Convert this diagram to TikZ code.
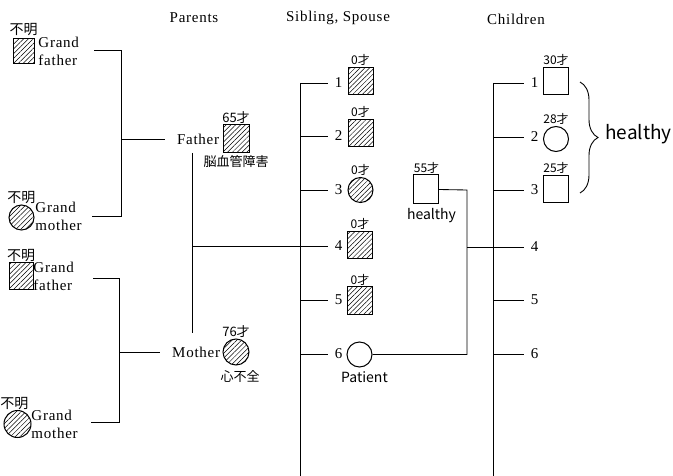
\documentclass[tikz,border=0pt]{standalone}
\usepackage{fontspec}
\setmainfont{Liberation Serif}
\newfontfamily\typed[LetterSpace=5]{Liberation Serif}
\newfontfamily\hand{Noto Sans CJK JP}
\usetikzlibrary{positioning,calc,patterns.meta,decorations.pathreplacing}
\tikzset{
  male/.style={draw, line width=1pt, rectangle, minimum width=25pt, minimum height=27pt, inner sep=0pt},
  female/.style={draw, line width=1pt, circle, minimum size=25pt, inner sep=0pt},
  affected/.style={pattern={Lines[angle=45,distance=3.4pt,line width=0.5pt]}},
  age/.style={font=\hand\fontsize{12}{12}\selectfont, inner sep=1pt},
  note/.style={font=\hand\fontsize{13}{13}\selectfont, inner sep=1pt},
  unknown/.style={font=\hand\fontsize{14}{14}\selectfont, inner sep=1pt},
  num/.style={font=\typed\fontsize{15}{18}\selectfont, inner sep=1pt, outer xsep=6pt},
  ptxt/.style={font=\typed\fontsize{15}{18}\selectfont, align=left, inner sep=1pt},
  head/.style={font=\typed\fontsize{15}{18}\selectfont}
}

\begin{document}
\begin{tikzpicture}[x=1pt, y=-1pt, line width=0.85pt]
        \useasboundingbox (0,0) rectangle (673,476);

        \node[head] (hpar) at (194,18) {Parents};
        \node[head] (hsib) at (338,18) {Sibling, Spouse};
        \node[head] (hchi) at (516,19) {Children};

        % grandparents
        \node[male, affected, minimum width=21pt, minimum height=25pt] (gf1) at (23.5,51) {};
        \node[unknown, above=1pt of gf1] {不明};
        \node[ptxt, anchor=west] (gf1t) at (37,51) {Grand\\father};
        \node[female, affected, minimum size=25pt] (gm1) at (21.5,217.5) {};
        \node[unknown, above=-1pt of gm1] {不明};
        \node[ptxt, anchor=west] (gm1t) at (34,216) {Grand\\mother};
        \node[male, affected, minimum width=24pt, minimum height=27pt] (gf2) at (21,276) {};
        \node[unknown, above=-1pt of gf2] {不明};
        \node[ptxt, anchor=west] (gf2t) at (32,276) {Grand\\father};
        \node[female, affected, minimum size=27pt] (gm2) at (17.5,424) {};
        \node[unknown, above=-1pt of gm2, xshift=-3pt] {不明};
        \node[ptxt, anchor=west] (gm2t) at (30,424) {Grand\\mother};

        \coordinate (pb1) at (121,50);
        \coordinate (pb2) at (121,216);
        \coordinate (pb3) at (119,278);
        \coordinate (pb4) at (119,422);
        \draw (pb1) ++(-27,0) -- (pb1) -- (pb2) -- ++(-29,0);
        \draw (pb3) ++(-26,0) -- (pb3) -- (pb4) -- ++(-28,0);

        % parents
        \node[male, affected, minimum width=26pt, minimum height=28pt] (fa) at (236,139) {};
        \node[age, above=0pt of fa, font=\hand\fontsize{13}{13}\selectfont] {65才};
        \node[note, below=1pt of fa] {脳血管障害};
        \node[ptxt, left=2pt of fa] (fat) {Father};
        \node[female, affected, minimum size=26pt] (mo) at (236,352) {};
        \node[age, above=0pt of mo, font=\hand\fontsize{13}{13}\selectfont] {76才};
        \node[note, below=4pt of mo, xshift=4pt] {心不全};
        \node[ptxt, left=1pt of mo] (mot) {Mother};
        \draw (pb1 |- fat) -- ([xshift=-11pt]fat.west);
        \draw (pb3 |- mot) -- ([xshift=-11pt]mot.west);

        \coordinate (fmt) at (192,153);
        \coordinate (fmb) at (192,333);
        \draw (fmt) -- (fmb);

        % siblings
        \coordinate (sibtop) at (300,83);
        \coordinate (sibbot) at (300,476);
        \draw (sibtop) -- (sibbot);
        \foreach \i/\y in {1/83,2/136,3/190,4/246,5/300,6/354} {
          \node[num] (sn\i) at (338.5,\y) {\i};
          \draw (sn\i.west) -- (sn\i.west -| sibtop);
        }
        \draw (fmt |- sn4) -- (sn4.west);

        \node[male, affected] (s1) at (360.5,81) {};
        \node[male, affected] (s2) at (360.5,133) {};
        \node[female, affected] (s3) at (360.5,190) {};
        \node[male, affected] (s4) at (360,245) {};
        \node[male, affected] (s5) at (360,300.5) {};
        \node[female] (s6) at (359.5,354.5) {};
        \foreach \s in {1,...,5} \node[age, above=0pt of s\s] {0才};
        \node[note, below=3pt of s6, xshift=5pt, font=\hand\fontsize{14}{14}\selectfont] {Patient};

        % spouse
        \node[male, minimum height=29pt] (sp) at (425.5,189.5) {};
        \node[age, above=0pt of sp, xshift=1pt] {55才};
        \node[note, below=2pt of sp, xshift=6pt, font=\hand\fontsize{14}{14}\selectfont] {healthy};

        % children
        \coordinate (chtop) at (493,83);
        \coordinate (chbot) at (493,476);
        \draw (chtop) -- (chbot);
        \foreach \i/\y in {1/83,2/137,3/190,4/247,5/300,6/354} {
          \node[num] (cn\i) at (534.5,\y) {\i};
          \draw (cn\i.west) -- (cn\i.west -| chtop);
        }
        \node[male] (c1) at (556,81) {};
        \node[female] (c2) at (556,139) {};
        \node[male] (c3) at (556,189) {};
        \node[age, above=0pt of c1] {30才};
        \node[age, above=0pt of c2] {28才};
        \node[age, above=0pt of c3] {25才};

        \coordinate (spl) at (467,190);
        \draw (sp.east) -- (spl) -- (spl |- s6.east) -- (s6.east);
        \draw (spl |- cn4) -- (cn4.west);

        \coordinate (brt) at (580,82);
        \coordinate (brb) at (580,193);
        \draw[decorate, decoration={brace, amplitude=18pt}, line width=0.9pt] (brt) -- (brb);
        \node[note, anchor=west, font=\hand\fontsize{19}{19}\selectfont] (hl) at (604,134) {healthy};
\end{tikzpicture}
\end{document}
